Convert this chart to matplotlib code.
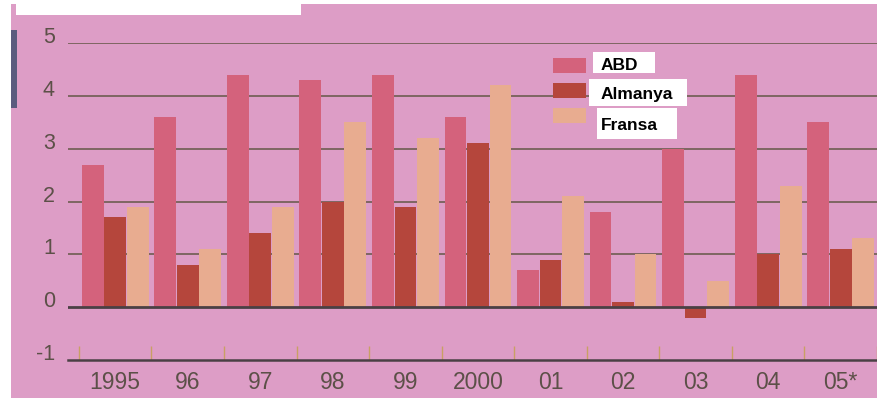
import matplotlib.pyplot as plt
import numpy as np
from matplotlib.patches import Rectangle

plt.rcParams['font.family'] = ['Liberation Sans', 'DejaVu Sans']

# yearly growth, %
years = ['1995', '96', '97', '98', '99', '2000', '01', '02', '03', '04', '05*']
abd = [2.7, 3.6, 4.4, 4.3, 4.4, 3.6, 0.7, 1.8, 3.0, 4.4, 3.5]
almanya = [1.7, 0.8, 1.4, 2.0, 1.9, 3.1, 0.9, 0.1, -0.2, 1.0, 1.1]
fransa = [1.9, 1.1, 1.9, 3.5, 3.2, 4.2, 2.1, 1.0, 0.5, 2.3, 1.3]
series = ['ABD', 'Almanya', 'Fransa']
yticks = [-1, 0, 1, 2, 3, 4, 5]

colors = ['#d4627c', '#b5463c', '#e8ac90']
pink = '#dd9dc6'
textcol = '#5c5048'

W, H = 877, 398
fig = plt.figure(figsize=(W / 100, H / 100), dpi=100, facecolor='white')


def fx(px):
    return px / W


def fy(py):
    return 1 - py / H


# page background, side marker and title strip
fig.add_artist(Rectangle((fx(11), 0), 1 - fx(11), fy(4), transform=fig.transFigure,
                         facecolor=pink, edgecolor='none', zorder=-5))
fig.add_artist(Rectangle((fx(11), fy(108)), 6 / W, 78 / H, transform=fig.transFigure,
                         facecolor='#5b5b7e', edgecolor='none', zorder=-4))
fig.add_artist(Rectangle((fx(16), fy(15)), 285 / W, 15 / H, transform=fig.transFigure,
                         facecolor='white', edgecolor='none', zorder=-4))

ax = fig.add_axes([fx(68), fy(360), 1 - fx(68), fy(43) - fy(360)])
ax.patch.set_visible(False)

x = np.arange(len(years))
offsets = [-0.31, 0.0, 0.31]
for vals, off, c in zip([abd, almanya, fransa], offsets, colors):
    ax.bar(x + off, vals, width=0.30, color=c, edgecolor='none', zorder=2)

ax.set_xlim(-0.65, 10.42)
ax.set_ylim(-1, 5)

for v in yticks[2:]:
    ax.axhline(v, color='#76625a', lw=1.3, zorder=1)
ax.axhline(0, color='#4a4044', lw=2.0, zorder=3)

for s in ['left', 'top', 'right']:
    ax.spines[s].set_visible(False)
ax.spines['bottom'].set_color('#4a4044')
ax.spines['bottom'].set_linewidth(1.8)

ax.set_xticks(x, labels=years)
ax.set_xticks(np.arange(len(years) + 1) - 0.5, minor=True)
ax.tick_params(axis='x', which='major', length=0, pad=8, labelsize=16.5, labelcolor=textcol)
ax.tick_params(axis='x', which='minor', direction='in', length=10, width=1, color='#c9a064')

ax.set_yticks(yticks, labels=[str(v) for v in yticks], va='baseline')
ax.tick_params(axis='y', length=0, pad=9.5, labelsize=15.5, labelcolor=textcol)

# legend keys with white label boxes
key_top = [58, 83, 108]
boxes = [(593, 52, 62, 21), (589, 79, 98, 27), (597, 108, 80, 31)]
label_y = [66, 94, 125]
for name, c, kt, (bx, by, bw, bh), ly in zip(series, colors, key_top, boxes, label_y):
    fig.add_artist(Rectangle((fx(553), fy(kt + 15)), 33 / W, 15 / H, transform=fig.transFigure,
                             facecolor=c, edgecolor='none', zorder=4))
    fig.add_artist(Rectangle((fx(bx), fy(by + bh)), bw / W, bh / H, transform=fig.transFigure,
                             facecolor='white', edgecolor='none', zorder=4))
    fig.text(fx(601), fy(ly), name, fontsize=12.5, fontweight='bold', va='center',
             color='black', zorder=5)

fig.savefig('out.png', dpi=100, facecolor='white')
